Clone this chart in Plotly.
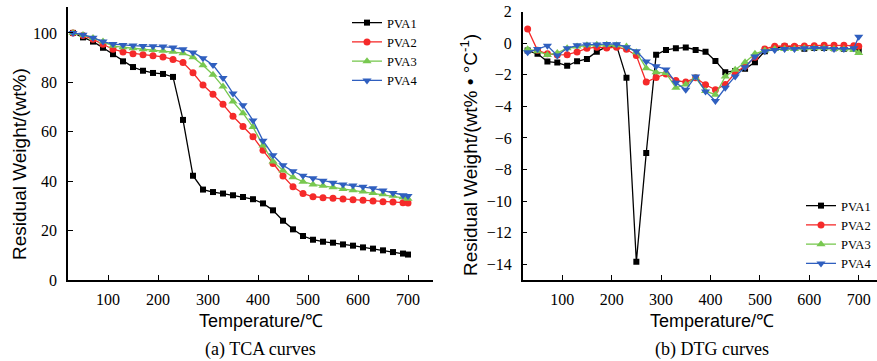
import plotly.graph_objects as go

W, H = 877, 361

temps = [30, 50, 70, 90, 110, 130, 150, 170, 190, 210, 230, 250, 270, 290, 310,
         330, 350, 370, 390, 410, 430, 450, 470, 490, 510, 530, 550, 570, 590,
         610, 630, 650, 670, 690, 700]

series_names = ["PVA1", "PVA2", "PVA3", "PVA4"]

tga_pva1 = [100, 98.2, 96.5, 94, 91.4, 88.5, 86.2, 84.7, 83.8, 83.4, 82.2, 64.8, 42.2,
            36.6, 35.6, 35, 34.3, 33.6, 32.7, 31, 28.2, 24, 20.5, 17.8, 16.3, 15.5,
            15.1, 14.4, 13.9, 13.2, 12.7, 12, 11.3, 10.7, 10.3]
tga_pva2 = [100, 99, 97.4, 95.4, 93.4, 92.3, 91.6, 91.2, 90.8, 90.3, 89.3, 88, 83.9,
            78.9, 75.2, 71.1, 66.3, 62.1, 58, 52.5, 47.2, 42.1, 37.7, 35, 33.7, 33.3,
            33.1, 32.8, 32.5, 32.3, 32, 31.7, 31.6, 31.3, 31.2]
tga_pva3 = [100, 99.2, 98, 96.5, 94.8, 94.2, 93.8, 93.4, 93.1, 92.8, 92.4, 91.8, 90.2,
            86.9, 83.1, 78.3, 72.2, 67.5, 61.9, 54.4, 48, 44.3, 41.6, 39.8, 38.7, 38.1,
            37.5, 36.8, 36.3, 35.8, 35.2, 34.7, 34.1, 33.5, 32.9]
tga_pva4 = [100, 99.3, 98.1, 96.5, 95.5, 95.1, 94.9, 94.7, 94.6, 94.5, 94.1, 93.4, 92.1,
            89.8, 87, 81.8, 75.5, 70.7, 64.6, 56.4, 50.5, 46.4, 44, 42.2, 41.2, 40.2,
            39.4, 38.7, 38.2, 37.7, 37.1, 36.2, 35.2, 34.3, 34]

dtg_pva1 = [-0.46, -0.67, -1.16, -1.22, -1.43, -1.14, -0.99, -0.53, -0.21, -0.15, -2.19,
            -13.85, -6.95, -0.72, -0.42, -0.32, -0.27, -0.42, -0.53, -1.12, -1.83, -1.75,
            -1.62, -1.2, -0.5, -0.3, -0.2, -0.25, -0.35, -0.3, -0.3, -0.32, -0.35, -0.35, -0.45]
dtg_pva2 = [0.9, -0.45, -0.67, -0.74, -0.72, -0.55, -0.32, -0.25, -0.3, -0.25, -0.38,
            -0.78, -2.46, -2.17, -1.94, -2.36, -2.46, -2.19, -2.63, -2.95, -2.61, -1.89,
            -1.45, -0.88, -0.36, -0.19, -0.17, -0.19, -0.17, -0.15, -0.13, -0.13, -0.13, -0.15, -0.19]
dtg_pva3 = [-0.38, -0.5, -0.74, -0.61, -0.32, -0.21, -0.13, -0.1, -0.1, -0.13, -0.21,
            -0.57, -1.58, -1.83, -1.89, -2.82, -2.61, -2.19, -3.03, -3.26, -2.1, -1.68,
            -1.2, -0.67, -0.46, -0.36, -0.36, -0.36, -0.32, -0.32, -0.32, -0.36, -0.38, -0.42, -0.61]
dtg_pva4 = [-0.57, -0.36, -0.15, -0.78, -0.32, -0.13, -0.08, -0.08, -0.04, -0.06, -0.25,
            -0.5, -1.16, -1.45, -1.66, -2.5, -2.95, -2.1, -3.05, -3.66, -2.82, -2.1,
            -1.52, -0.84, -0.5, -0.42, -0.36, -0.36, -0.32, -0.3, -0.32, -0.36, -0.36, -0.32, 0.42]

colors = ["#000000", "#f52a2a", "#78c850", "#2f5fbf"]
symbols = ["square", "circle", "triangle-up", "triangle-down"]
msizes = [6, 7, 8, 8]

SERIF = "Liberation Serif"
SANS = "Liberation Sans"

fig = go.Figure()

for name, ys, c, s, ms in zip(series_names, [tga_pva1, tga_pva2, tga_pva3, tga_pva4], colors, symbols, msizes):
    fig.add_trace(go.Scatter(x=temps, y=ys, name=name, mode="lines+markers",
                             line=dict(color=c, width=1.3),
                             marker=dict(symbol=s, size=ms, color=c),
                             xaxis="x", yaxis="y", legend="legend"))

for name, ys, c, s, ms in zip(series_names, [dtg_pva1, dtg_pva2, dtg_pva3, dtg_pva4], colors, symbols, msizes):
    fig.add_trace(go.Scatter(x=temps, y=ys, name=name, mode="lines+markers",
                             line=dict(color=c, width=1.3),
                             marker=dict(symbol=s, size=ms, color=c),
                             xaxis="x2", yaxis="y2", legend="legend2"))

axis_common = dict(showgrid=False, zeroline=False, showline=True, linecolor="black",
                   linewidth=1.5, ticks="inside", ticklen=5, tickcolor="black",
                   tickwidth=1.2, automargin=False,
                   tickfont=dict(family=SERIF, size=16, color="black"))

legend_common = dict(font=dict(family=SERIF, size=12.5, color="black"), bgcolor="rgba(0,0,0,0)",
                     tracegroupgap=0, itemwidth=30, borderwidth=0)

fig.update_layout(
    template="none",
    width=W, height=H,
    margin=dict(l=0, r=0, t=0, b=0, pad=0),
    paper_bgcolor="white", plot_bgcolor="white",
    xaxis=dict(domain=[68 / W, 433 / W], range=[20, 750], tickvals=[100, 200, 300, 400, 500, 600, 700],
               anchor="y", ticklabelstandoff=4, **axis_common),
    yaxis=dict(domain=[1 - 280 / H, 1 - 7 / H], range=[0, 110.5], tickvals=[0, 20, 40, 60, 80, 100],
               anchor="x", ticklabelstandoff=6, **axis_common),
    xaxis2=dict(domain=[522.7 / W, 1.0], range=[20, 737], tickvals=[100, 200, 300, 400, 500, 600, 700],
                anchor="y2", ticklabelstandoff=4, **axis_common),
    yaxis2=dict(domain=[1 - 280 / H, 1 - 11.7 / H], range=[-15, 2],
                tickvals=[-14, -12, -10, -8, -6, -4, -2, 0, 2],
                anchor="x2", ticklabelstandoff=6, **axis_common),
    legend=dict(x=347 / W, y=1 - 8 / H, xanchor="left", yanchor="top", **legend_common),
    legend2=dict(x=1.0, y=1 - 191 / H, xanchor="right", yanchor="top", **legend_common),
    showlegend=True,
)

ann = [
    dict(text="Residual Weight/(wt%)", x=19 / W, y=1 - 164 / H, textangle=-90,
         font=dict(family=SANS, size=19, color="black")),
    dict(text="Residual Weight/(wt% • °C<sup>-1</sup>)", x=469 / W, y=1 - 155 / H, textangle=-90,
         font=dict(family=SANS, size=19, color="black")),
    dict(text="Temperature/℃", x=261 / W, y=1 - 321 / H,
         font=dict(family=SANS, size=18, color="black")),
    dict(text="Temperature/℃", x=711.7 / W, y=1 - 321 / H,
         font=dict(family=SANS, size=18, color="black")),
    dict(text="(a) TCA curves", x=260 / W, y=1 - 349 / H,
         font=dict(family=SERIF, size=18, color="black")),
    dict(text="(b) DTG curves", x=711.7 / W, y=1 - 349 / H,
         font=dict(family=SERIF, size=18, color="black")),
]
for a in ann:
    fig.add_annotation(xref="paper", yref="paper", xanchor="center", yanchor="middle",
                       showarrow=False, **a)

fig.write_html("out.html")
